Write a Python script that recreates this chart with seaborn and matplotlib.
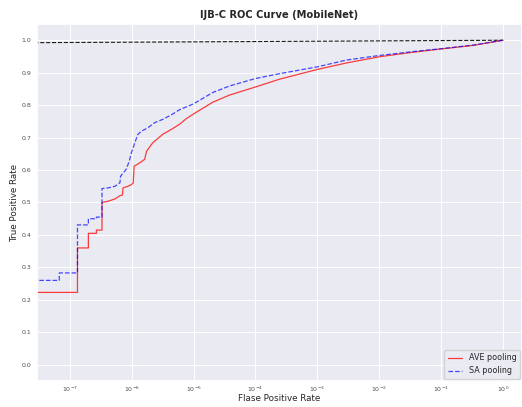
import matplotlib
matplotlib.use("Agg")
import matplotlib.pyplot as plt
import numpy as np
import pandas as pd
import seaborn as sns

# ROC vertices (fpr stored as log10 exponents)
ave_log_fpr = [-7.6, -6.876, -6.876, -6.70, -6.70, -6.57, -6.57, -6.48, -6.48,
               -6.38, -6.27, -6.19, -6.15, -6.14, -6.06, -6.005, -5.975, -5.97,
               -5.96, -5.87, -5.79, -5.76, -5.66, -5.50, -5.36, -5.22, -5.12,
               -5.0, -4.69, -4.42, -4.0, -3.61, -3.0, -2.53, -2.0, -1.455, -1.0,
               -0.485, 0.0]
ave_tpr = [0.223, 0.223, 0.36, 0.36, 0.405, 0.405, 0.415, 0.415, 0.50,
           0.504, 0.511, 0.521, 0.523, 0.545, 0.550, 0.555, 0.560, 0.581,
           0.612, 0.622, 0.633, 0.658, 0.684, 0.710, 0.725, 0.742, 0.758,
           0.773, 0.809, 0.831, 0.856, 0.880, 0.910, 0.930, 0.949, 0.963, 0.973,
           0.984, 1.0]

sa_log_fpr = [-7.6, -7.17, -7.17, -6.876, -6.876, -6.70, -6.70, -6.57, -6.57,
              -6.48, -6.48, -6.38, -6.27, -6.19, -6.18, -6.09, -6.04, -6.005,
              -5.95, -5.90, -5.84, -5.74, -5.63, -5.50, -5.36, -5.226, -5.0,
              -4.69, -4.42, -4.0, -3.61, -3.0, -2.53, -2.0, -1.455, -1.0,
              -0.485, 0.0]
sa_tpr = [0.26, 0.26, 0.283, 0.283, 0.431, 0.431, 0.45, 0.45, 0.455,
          0.455, 0.543, 0.545, 0.55, 0.561, 0.581, 0.602, 0.627, 0.653,
          0.684, 0.710, 0.72, 0.730, 0.746, 0.756, 0.770, 0.786, 0.804,
          0.839, 0.859, 0.882, 0.897, 0.918, 0.939, 0.953, 0.965, 0.974,
          0.985, 1.0]

# chance diagonal, drawn as in the original (x=0 is clipped on a log axis)
diag_x = [0, 1]
diag_y = [0, 1]

sns.set_theme(style="darkgrid", rc={"grid.linewidth": 0.7})

fig = plt.figure(figsize=(5.22, 4.07), dpi=100)
ax = fig.add_axes([37 / 522, 1 - 381 / 407, 1 - 37 / 522, (381 - 24) / 407])

ax.plot(diag_x, diag_y, "k--", lw=0.8)

ave = pd.DataFrame({"fpr": 10 ** np.array(ave_log_fpr), "tpr": ave_tpr})
sa = pd.DataFrame({"fpr": 10 ** np.array(sa_log_fpr), "tpr": sa_tpr})

sns.lineplot(data=ave, x="fpr", y="tpr", ax=ax, color="red", alpha=0.75,
             lw=0.9, sort=False, estimator=None, label="AVE pooling")
sns.lineplot(data=sa, x="fpr", y="tpr", ax=ax, color="blue", alpha=0.7,
             lw=0.9, ls="--", sort=False, estimator=None, label="SA pooling")

ax.set_xscale("log")
ax.set_xlim(10 ** -7.53, 10 ** 0.306)
ax.set_ylim(-0.05, 1.05)
ax.set_xticks([10.0 ** k for k in range(-7, 1)])
ax.set_yticks(np.round(np.arange(0, 1.01, 0.1), 1))
ax.xaxis.set_minor_locator(matplotlib.ticker.NullLocator())
ax.tick_params(axis="both", which="both", length=0, labelsize=4.5,
               labelcolor=".3")
ax.tick_params(axis="x", pad=3)
ax.tick_params(axis="y", pad=4)

ax.set_title("IJB-C ROC Curve (MobileNet)", fontsize=7.1, fontweight="bold", pad=4)
ax.set_xlabel("Flase Positive Rate", fontsize=6.3)
ax.set_ylabel("True Positive Rate", fontsize=6.3)
ax.xaxis.set_label_coords(0.5, -0.036)
ax.yaxis.set_label_coords(-0.037, 0.5)
ax.legend(loc="lower right", fontsize=5.8, borderaxespad=0.3, handlelength=1.8)

fig.savefig("out.png", dpi=100)
